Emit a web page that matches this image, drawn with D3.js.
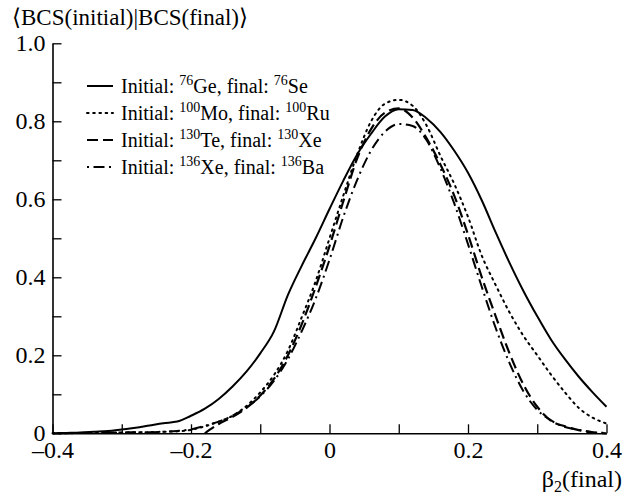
<!DOCTYPE html>
<html>
<head>
<meta charset="utf-8">
<script src="https://cdn.jsdelivr.net/npm/d3@7/dist/d3.min.js"></script>
<style>
  html, body { margin: 0; padding: 0; background: #fff; }
</style>
</head>
<body>
<svg id="chart" width="632" height="497"></svg>
<script>
// Deformation grid of the final nucleus
const beta2 = [-0.40, -0.38, -0.36, -0.34, -0.32, -0.30, -0.28, -0.26, -0.24, -0.22,
               -0.20, -0.18, -0.16, -0.14, -0.12, -0.10, -0.08, -0.06, -0.04, -0.02,
                0.00,  0.02,  0.04,  0.06,  0.08,  0.10,  0.12,  0.14,  0.16,  0.18,
                0.20,  0.22,  0.24,  0.26,  0.28,  0.30,  0.32,  0.34,  0.36,  0.38, 0.40];

// Overlap <BCS(initial)|BCS(final)> for each decay pair
const overlapGeSe = [0.000, 0.001, 0.002, 0.004, 0.006, 0.010, 0.014, 0.020, 0.026, 0.030,
                     0.045, 0.063, 0.088, 0.120, 0.158, 0.205, 0.262, 0.355, 0.430, 0.500,
                     0.575, 0.648, 0.715, 0.768, 0.812, 0.831, 0.829, 0.808, 0.773, 0.725,
                     0.668, 0.597, 0.515, 0.437, 0.365, 0.300, 0.240, 0.190, 0.145, 0.105, 0.068];
const overlapMoRu = [0.000, 0.000, 0.001, 0.001, 0.002, 0.002, 0.003, 0.003, 0.004, 0.005,
                     0.009, 0.018, 0.030, 0.045, 0.070, 0.105, 0.150, 0.212, 0.298, 0.390,
                     0.500, 0.610, 0.715, 0.800, 0.845, 0.855, 0.840, 0.790, 0.712, 0.640,
                     0.555, 0.455, 0.380, 0.310, 0.250, 0.200, 0.150, 0.105, 0.065, 0.040, 0.025];
const overlapTeXe = [null, null, null, null, null, null, null, null, null, null,
                     null, 0.000, 0.024, 0.042, 0.065, 0.097, 0.140, 0.200, 0.280, 0.375,
                     0.480, 0.595, 0.705, 0.780, 0.822, 0.833, 0.810, 0.757, 0.690, 0.610,
                     0.510, 0.400, 0.300, 0.205, 0.125, 0.068, 0.032, 0.018, 0.008, 0.002, 0.000];
const overlapXeBa = [0.000, 0.000, 0.001, 0.001, 0.002, 0.002, 0.003, 0.003, 0.004, 0.006,
                     0.010, 0.019, 0.030, 0.045, 0.066, 0.095, 0.135, 0.190, 0.262, 0.345,
                     0.445, 0.555, 0.650, 0.725, 0.773, 0.793, 0.788, 0.752, 0.680, 0.590,
                     0.485, 0.375, 0.270, 0.180, 0.108, 0.060, 0.033, 0.016, 0.009, 0.003, 0.001];

// Legend entries
const massInitial = ["76", "100", "130", "136"];
const nucleusInitial = ["Ge", "Mo", "Te", "Xe"];
const massFinal = ["76", "100", "130", "136"];
const nucleusFinal = ["Se", "Ru", "Xe", "Ba"];

// Axis ticks
const xTicks = [-0.4, -0.3, -0.2, -0.1, 0, 0.1, 0.2, 0.3, 0.4];
const xTickLabels = ["\u20130.4", "", "\u20130.2", "", "0", "", "0.2", "", "0.4"];
const yTicks = [0, 0.1, 0.2, 0.3, 0.4, 0.5, 0.6, 0.7, 0.8, 0.9, 1.0];
const yTickLabels = ["0", "", "0.2", "", "0.4", "", "0.6", "", "0.8", "", "1.0"];

const series = [overlapGeSe, overlapMoRu, overlapTeXe, overlapXeBa];
const dashes = [null, "1.6,4.6", "11,5", "2,4.5,11,4.5"];
const widths = [2, 2, 2.2, 2];
const SERIF = '"Liberation Serif", "Times New Roman", serif';

const svg = d3.select("#chart");
const x = d3.scaleLinear().domain([-0.4, 0.4]).range([52.5, 606.5]);
const y = d3.scaleLinear().domain([0, 1]).range([433.3, 43.3]);

// Curves
const line = d3.line()
  .defined(d => d[1] !== null)
  .x(d => x(d[0]))
  .y(d => y(d[1]))
  .curve(d3.curveMonotoneX);

series.forEach((vals, i) => {
  svg.append("path")
    .datum(beta2.map((b, k) => [b, vals[k]]))
    .attr("d", line)
    .attr("fill", "none")
    .attr("stroke", "#000")
    .attr("stroke-width", widths[i])
    .attr("stroke-linecap", i === 1 ? "round" : "butt")
    .attr("stroke-dasharray", dashes[i]);
});

// Axes with inward ticks
const xAxis = d3.axisBottom(x)
  .tickValues(xTicks)
  .tickFormat((d, i) => xTickLabels[i])
  .tickSizeInner(-9).tickSizeOuter(0);
const gx = svg.append("g").attr("transform", `translate(0,${y(0)})`).call(xAxis);

const yAxis = d3.axisLeft(y)
  .tickValues(yTicks)
  .tickFormat((d, i) => yTickLabels[i])
  .tickSizeInner(-9).tickSizeOuter(0).tickPadding(7);
const gy = svg.append("g").attr("transform", `translate(${x(-0.4)},0)`).call(yAxis);

[gx, gy].forEach(g => {
  g.select(".domain").attr("stroke", "#000").attr("stroke-width", 1.6);
  g.selectAll(".tick line").attr("stroke", "#000").attr("stroke-width", 1.3);
  g.selectAll(".tick text")
    .style("font-family", SERIF)
    .style("font-size", "24px")
    .attr("fill", "#000");
});
gx.selectAll(".tick text").attr("y", 25).attr("dy", null);
gy.selectAll(".tick text").attr("dy", "0.3em");

// Title of the ordinate
svg.append("text")
  .attr("x", 12).attr("y", 25)
  .style("font-family", SERIF).style("font-size", "23px")
  .text("\u27E8BCS(initial)|BCS(final)\u27E9");

// Abscissa label
const xl = svg.append("text")
  .attr("x", 622).attr("y", 487)
  .attr("text-anchor", "end")
  .style("font-family", SERIF).style("font-size", "24px");
xl.append("tspan").text("\u03B2");
xl.append("tspan").style("font-size", "16px").attr("dy", 5).text("2");
xl.append("tspan").attr("dy", -5).text("(final)");

// Legend
const legendRows = [93, 120, 147, 174];
legendRows.forEach((by, i) => {
  svg.append("line")
    .attr("x1", 87).attr("x2", 113)
    .attr("y1", by - 7).attr("y2", by - 7)
    .attr("stroke", "#000")
    .attr("stroke-width", widths[i])
    .attr("stroke-linecap", i === 1 ? "round" : "butt")
    .attr("stroke-dasharray", dashes[i]);
  const t = svg.append("text").attr("x", 121).attr("y", by)
    .style("font-family", SERIF).style("font-size", "20px");
  t.append("tspan").text("Initial: ");
  t.append("tspan").style("font-size", "14px").attr("dy", -8).text(massInitial[i]);
  t.append("tspan").attr("dy", 8).text(nucleusInitial[i] + ", final: ");
  t.append("tspan").style("font-size", "14px").attr("dy", -8).text(massFinal[i]);
  t.append("tspan").attr("dy", 8).text(nucleusFinal[i]);
});
</script>
</body>
</html>
